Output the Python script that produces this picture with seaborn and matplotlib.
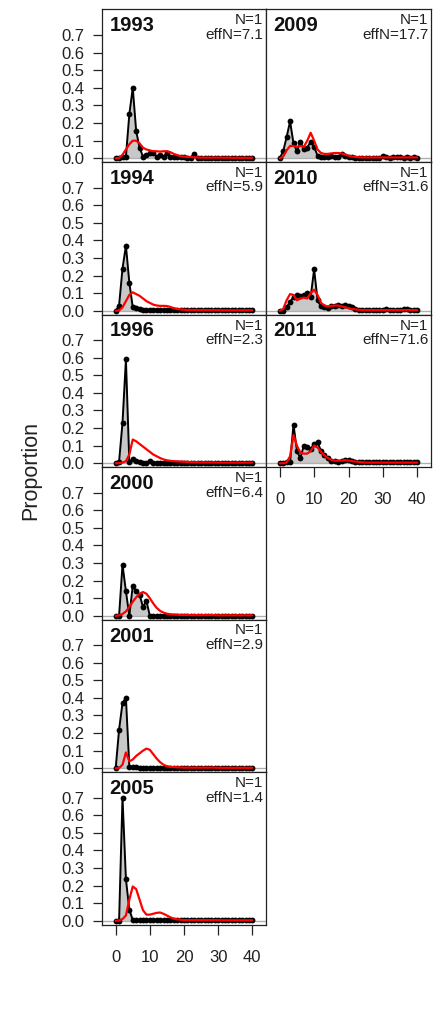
import matplotlib
matplotlib.use("Agg")
import matplotlib.pyplot as plt
import seaborn as sns
import numpy as np
import pandas as pd

sns.set_theme(style="white")
plt.rcParams["font.family"] = ["Liberation Sans", "DejaVu Sans"]

bins = list(range(0, 41))
years = ["1993", "1994", "1996", "2000", "2001", "2005", "2009", "2010", "2011"]
effn = ["7.1", "5.9", "2.3", "6.4", "2.9", "1.4", "17.7", "31.6", "71.6"]
yticks = [0.0, 0.1, 0.2, 0.3, 0.4, 0.5, 0.6, 0.7]
ytick_labels = ["0.0", "0.1", "0.2", "0.3", "0.4", "0.5", "0.6", "0.7"]
xticks = [0, 10, 20, 30, 40]

obs_1993 = [0, 0, 0.005, 0.01, 0.25, 0.40, 0.155, 0.06, 0.01, 0.02, 0.03, 0.03, 0.01, 0.02, 0.01, 0.03,
            0.01, 0.01, 0.005, 0.005, 0.005, 0.003, 0.003, 0.025, 0.002, 0.002, 0.002, 0.002, 0.002, 0.002,
            0.002, 0.002, 0.002, 0.002, 0.002, 0.002, 0.002, 0.002, 0.002, 0.002, 0.002]
exp_1993 = [0, 0.002, 0.02, 0.05, 0.08, 0.10, 0.10, 0.085, 0.06, 0.05, 0.045, 0.04, 0.04, 0.038, 0.04, 0.04,
            0.035, 0.025, 0.018, 0.012, 0.01, 0.008, 0.007, 0.006, 0.005, 0.004, 0.004, 0.004, 0.004, 0.004,
            0.004, 0.004, 0.004, 0.004, 0.003, 0.003, 0.003, 0.003, 0.003, 0.003, 0.003]

obs_1994 = [0, 0.03, 0.24, 0.37, 0.16, 0.02, 0.015, 0.01, 0.005, 0.005, 0.005, 0.005, 0.005, 0.005, 0.005, 0.005,
            0.003, 0.003, 0.003, 0.003, 0.003, 0.003, 0.003, 0.003, 0.003, 0.003, 0.003, 0.003, 0.003, 0.003,
            0.003, 0.003, 0.003, 0.003, 0.003, 0.003, 0.003, 0.003, 0.003, 0.003, 0.003]
exp_1994 = [0, 0.002, 0.02, 0.055, 0.09, 0.105, 0.095, 0.085, 0.07, 0.055, 0.045, 0.035, 0.03, 0.028, 0.028, 0.027,
            0.022, 0.015, 0.01, 0.008, 0.006, 0.005, 0.005, 0.005, 0.004, 0.004, 0.004, 0.004, 0.004, 0.004,
            0.004, 0.003, 0.003, 0.003, 0.003, 0.003, 0.003, 0.003, 0.003, 0.003, 0.003]

obs_1996 = [0, 0.01, 0.23, 0.59, 0.005, 0.025, 0.015, 0.005, 0.003, 0.003, 0.015, 0.003, 0.002, 0.002, 0.002, 0.002,
            0.002, 0.002, 0.002, 0.002, 0.002, 0.002, 0.002, 0.002, 0.002, 0.002, 0.002, 0.002, 0.002, 0.002,
            0.002, 0.002, 0.002, 0.002, 0.002, 0.002, 0.002, 0.002, 0.002, 0.002, 0.002]
exp_1996 = [0, 0.001, 0.004, 0.012, 0.05, 0.135, 0.125, 0.11, 0.095, 0.08, 0.065, 0.05, 0.04, 0.03, 0.022, 0.017,
            0.014, 0.012, 0.011, 0.01, 0.009, 0.008, 0.007, 0.006, 0.006, 0.005, 0.005, 0.005, 0.005, 0.005,
            0.004, 0.004, 0.004, 0.004, 0.004, 0.004, 0.004, 0.004, 0.004, 0.004, 0.004]

obs_2000 = [0, 0, 0.29, 0.14, 0.0, 0.17, 0.14, 0.12, 0.05, 0.085, 0.0, 0.001, 0.001, 0.001, 0.001, 0.001,
            0.001, 0.001, 0.001, 0.001, 0.001, 0.001, 0.001, 0.001, 0.001, 0.001, 0.001, 0.001, 0.001, 0.001,
            0.001, 0.001, 0.001, 0.001, 0.001, 0.001, 0.001, 0.001, 0.001, 0.001, 0.001]
exp_2000 = [0, 0.003, 0.01, 0.025, 0.05, 0.08, 0.105, 0.125, 0.135, 0.125, 0.10, 0.07, 0.045, 0.028, 0.018, 0.012,
            0.009, 0.007, 0.006, 0.005, 0.005, 0.005, 0.004, 0.004, 0.004, 0.004, 0.004, 0.004, 0.004, 0.004,
            0.003, 0.003, 0.003, 0.003, 0.003, 0.003, 0.003, 0.003, 0.003, 0.003, 0.003]

obs_2001 = [0, 0.22, 0.37, 0.40, 0.01, 0.005, 0.008, 0.003, 0.003, 0.003, 0.003, 0.003, 0.003, 0.003, 0.003, 0.003,
            0.003, 0.003, 0.003, 0.003, 0.003, 0.003, 0.003, 0.003, 0.003, 0.003, 0.003, 0.003, 0.003, 0.003,
            0.003, 0.003, 0.003, 0.003, 0.003, 0.003, 0.003, 0.003, 0.003, 0.003, 0.003]
exp_2001 = [0, 0.002, 0.02, 0.09, 0.04, 0.05, 0.07, 0.085, 0.10, 0.112, 0.105, 0.08, 0.055, 0.035, 0.02, 0.012,
            0.008, 0.007, 0.006, 0.005, 0.004, 0.004, 0.004, 0.004, 0.004, 0.004, 0.004, 0.004, 0.004, 0.004,
            0.003, 0.003, 0.003, 0.003, 0.003, 0.003, 0.003, 0.003, 0.003, 0.003, 0.003]

obs_2005 = [0, 0.0, 0.70, 0.237, 0.0625, 0.005, 0.002, 0.002, 0.002, 0.002, 0.002, 0.002, 0.002, 0.002, 0.002, 0.002,
            0.002, 0.002, 0.002, 0.002, 0.002, 0.002, 0.002, 0.002, 0.002, 0.002, 0.002, 0.002, 0.002, 0.002,
            0.002, 0.002, 0.002, 0.002, 0.002, 0.002, 0.002, 0.002, 0.002, 0.002, 0.002]
exp_2005 = [0, 0.002, 0.01, 0.03, 0.12, 0.195, 0.18, 0.12, 0.06, 0.035, 0.035, 0.04, 0.045, 0.047, 0.04, 0.03,
            0.02, 0.012, 0.008, 0.006, 0.004, 0.004, 0.004, 0.004, 0.004, 0.004, 0.004, 0.004, 0.004, 0.004,
            0.004, 0.003, 0.003, 0.003, 0.003, 0.003, 0.003, 0.003, 0.003, 0.003, 0.003]

obs_2009 = [0, 0.04, 0.12, 0.21, 0.085, 0.04, 0.095, 0.05, 0.06, 0.095, 0.065, 0.015, 0.01, 0.01, 0.01, 0.012,
            0.01, 0.008, 0.025, 0.015, 0.01, 0.005, 0.003, 0.003, 0.003, 0.003, 0.003, 0.003, 0.003, 0.003,
            0.015, 0.005, 0.003, 0.01, 0.005, 0.01, 0.003, 0.005, 0.003, 0.005, 0.003]
exp_2009 = [0, 0.01, 0.045, 0.07, 0.07, 0.065, 0.07, 0.065, 0.10, 0.145, 0.10, 0.05, 0.03, 0.025, 0.025, 0.028,
            0.03, 0.03, 0.028, 0.022, 0.015, 0.01, 0.008, 0.006, 0.005, 0.005, 0.005, 0.005, 0.005, 0.005,
            0.005, 0.005, 0.005, 0.005, 0.005, 0.005, 0.005, 0.005, 0.005, 0.005, 0.005]

obs_2010 = [0, 0, 0.02, 0.05, 0.08, 0.09, 0.085, 0.09, 0.10, 0.08, 0.235, 0.06, 0.025, 0.02, 0.015, 0.025,
            0.03, 0.035, 0.03, 0.035, 0.03, 0.02, 0.01, 0.005, 0.005, 0.005, 0.005, 0.005, 0.005, 0.005,
            0.005, 0.008, 0.005, 0.005, 0.005, 0.005, 0.008, 0.01, 0.005, 0.005, 0.005]
exp_2010 = [0, 0.01, 0.06, 0.095, 0.09, 0.06, 0.07, 0.075, 0.07, 0.10, 0.12, 0.09, 0.045, 0.03, 0.025, 0.028,
            0.03, 0.03, 0.025, 0.02, 0.015, 0.01, 0.008, 0.006, 0.004, 0.004, 0.004, 0.004, 0.004, 0.004,
            0.004, 0.004, 0.004, 0.004, 0.004, 0.004, 0.004, 0.004, 0.004, 0.004, 0.004]

obs_2011 = [0, 0, 0.005, 0.005, 0.22, 0.07, 0.03, 0.10, 0.09, 0.08, 0.11, 0.12, 0.07, 0.045, 0.03, 0.015,
            0.015, 0.01, 0.015, 0.02, 0.02, 0.015, 0.01, 0.005, 0.005, 0.005, 0.005, 0.005, 0.005, 0.005,
            0.005, 0.005, 0.005, 0.005, 0.005, 0.005, 0.005, 0.005, 0.005, 0.005, 0.005]
exp_2011 = [0, 0, 0.005, 0.04, 0.16, 0.10, 0.06, 0.055, 0.055, 0.07, 0.10, 0.09, 0.065, 0.045, 0.03, 0.02,
            0.015, 0.015, 0.015, 0.018, 0.015, 0.012, 0.01, 0.008, 0.006, 0.004, 0.004, 0.004, 0.004, 0.004,
            0.004, 0.004, 0.004, 0.004, 0.004, 0.004, 0.004, 0.004, 0.004, 0.004, 0.004]

obs_all = [obs_1993, obs_1994, obs_1996, obs_2000, obs_2001, obs_2005, obs_2009, obs_2010, obs_2011]
exp_all = [exp_1993, exp_1994, exp_1996, exp_2000, exp_2001, exp_2005, exp_2009, exp_2010, exp_2011]

frames = []
for yr, o, e in zip(years, obs_all, exp_all):
    frames.append(pd.DataFrame({"year": yr, "bin": bins, "obs": o, "exp": e}))
df = pd.concat(frames, ignore_index=True)

W, H = 433.0, 1016.0
fig = plt.figure(figsize=(W / 100, H / 100), dpi=100)

col_left = [102.0, 266.0]
col_width = [164.0, 165.0]
row_top0 = 9.5
row_h = 152.5

slots = [(0, 0), (0, 1), (0, 2), (0, 3), (0, 4), (0, 5), (1, 0), (1, 1), (1, 2)]
bottom_panels = {"2005", "2011"}

for yr, en, (c, r) in zip(years, effn, slots):
    top = row_top0 + r * row_h
    ax = fig.add_axes([col_left[c] / W, 1 - (top + row_h) / H, col_width[c] / W, row_h / H])
    sub = df[df["year"] == yr]
    ax.fill_between(sub["bin"], 0, sub["obs"], color="#c8c8c8", lw=0, zorder=1)
    ax.axhline(0, color="#b0b0b0", lw=1.0, zorder=1.5)
    sns.lineplot(data=sub, x="bin", y="obs", ax=ax, color="black", lw=1.4, marker="o",
                 markersize=4.2, markeredgewidth=0, estimator=None, sort=False, zorder=2)
    sns.lineplot(data=sub, x="bin", y="exp", ax=ax, color="red", lw=1.6,
                 estimator=None, sort=False, zorder=3)
    ax.set_xlim(-4, 44)
    ax.set_ylim(-0.021, 0.845)
    ax.set_xlabel("")
    ax.set_ylabel("")
    for s in ax.spines.values():
        s.set_color("#222222")
        s.set_linewidth(0.9)
    if c == 0:
        ax.set_yticks(yticks)
        ax.set_yticklabels(ytick_labels)
        ax.tick_params(axis="y", left=True, length=6.5, width=0.9, pad=6, labelsize=12,
                       color="#222222", labelcolor="#222222")
    else:
        ax.set_yticks([])
    if yr in bottom_panels:
        ax.set_xticks(xticks)
        ax.set_xticklabels([str(t) for t in xticks])
        ax.tick_params(axis="x", bottom=True, length=7, width=0.9, pad=11, labelsize=12,
                       color="#222222", labelcolor="#222222")
    else:
        ax.set_xticks([])
    ax.text(0.045, 1 - 22 / row_h, yr, transform=ax.transAxes, ha="left", va="baseline",
            fontsize=14.5, fontweight="bold", color="#111111")
    ax.text(0.985, 1 - 15 / row_h, "N=1", transform=ax.transAxes, ha="right", va="baseline",
            fontsize=11, color="#222222")
    ax.text(0.985, 1 - 29.5 / row_h, "effN=" + en, transform=ax.transAxes, ha="right", va="baseline",
            fontsize=11, color="#222222")

fig.text(31 / W, 1 - 470 / H, "Proportion", rotation=90, ha="center", va="center",
         fontsize=15.5, color="#222222")

fig.savefig("out.png", dpi=100)
